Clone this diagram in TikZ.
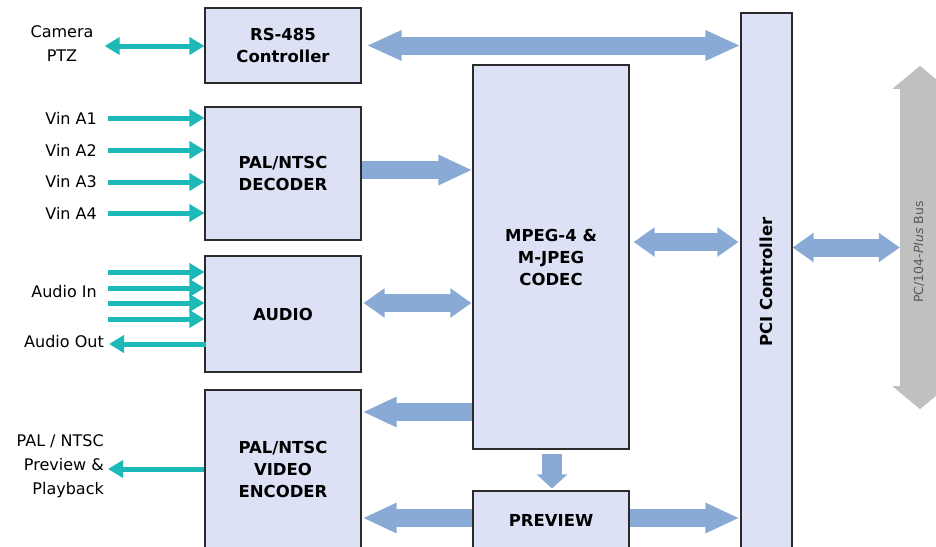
\documentclass[tikz,border=0pt]{standalone}
\usepackage{fontspec}
\setmainfont{DejaVu Sans}
\usetikzlibrary{arrows.meta,calc}
\definecolor{boxfill}{HTML}{DCE1F5}
\definecolor{boxline}{HTML}{2B2B2B}
\definecolor{fatblue}{HTML}{8AAAD6}
\definecolor{sigteal}{HTML}{1DB9B9}
\definecolor{busgray}{HTML}{C0C0C0}
\tikzset{
  blk/.style={draw=boxline, fill=boxfill, line width=1.1pt, align=center,
    font=\fontsize{16.5}{22}\selectfont\bfseries, inner sep=0pt},
  lbl/.style={font=\fontsize{16}{24}\selectfont, inner sep=0pt, text=black},
  fatlong/.style={draw=fatblue, line width=18pt,
    {Triangle[length=35pt,width=28pt]}-{Triangle[length=35pt,width=28pt]}},
  fatone/.style={draw=fatblue, line width=18pt, -{Triangle[length=34pt,width=28pt]}},
  fatshort/.style={draw=fatblue, line width=18pt,
    {Triangle[length=21pt,width=28pt]}-{Triangle[length=21pt,width=28pt]}},
  fatdown/.style={draw=fatblue, line width=20pt, -{Triangle[length=14pt,width=30pt]}},
  sig/.style={draw=sigteal, line width=5pt, -{Triangle[length=15pt,width=17pt]}},
  sigboth/.style={draw=sigteal, line width=5pt,
    {Triangle[length=15pt,width=17pt]}-{Triangle[length=15pt,width=17pt]}},
  busarrow/.style={draw=busgray, line width=40pt,
    {Triangle[length=23pt,width=54pt]}-{Triangle[length=23pt,width=54pt]}},
}
\begin{document}
\begin{tikzpicture}[x=1pt,y=-1pt]
\useasboundingbox (0,0) rectangle (936,546);
\begin{scope}
\clip (0,0) rectangle (936,546);
% blocks
\node[blk, minimum width=156pt, minimum height=75pt] (rs) at (283,45.5) {RS-485\\Controller};
\node[blk, minimum width=156pt, minimum height=133pt] (dec) at (283,173.5) {PAL/NTSC\\DECODER};
\node[blk, minimum width=156pt, minimum height=116pt] (aud) at (283,314) {AUDIO};
\node[blk, minimum width=156pt, minimum height=158pt] (enc) at (283,469) {PAL/NTSC\\VIDEO\\ENCODER};
\node[blk, minimum width=156pt, minimum height=384pt] (mpeg) at (551,257) {MPEG-4 \&\\M-JPEG\\CODEC};
\node[blk, minimum width=156pt, minimum height=58pt] (prev) at (551,520) {PREVIEW};
\node[blk, minimum width=538pt, minimum height=51pt, rotate=90] (pci) at (766.5,282) {PCI Controller};

% bus
\node[minimum width=40pt, minimum height=343pt, inner sep=0pt] (bus) at (920,237.5) {};
\draw[busarrow] (bus.north) -- (bus.south);
\node[rotate=90, font=\fontsize{12.5}{14}\selectfont, text=black!65, inner sep=0pt] (bustxt) at (919,252)
  {PC/104-\textit{Plus} Bus};

% fat arrows
\draw[fatlong] ($(rs.east)+(5,0)$) -- (rs.east -| pci.north);
\draw[fatone] ($(dec.east)+(0,-3.5)$) -- ($(dec.east -| mpeg.west)+(0,-3.5)$);
\draw[fatshort] ($(mpeg.east)+(4,-15)$) -- ($(mpeg.east -| pci.north)+(-2,-15)$);
\draw[fatshort] ($(aud.east)+(2,-11)$) -- ($(aud.east -| mpeg.west)+(-1,-11)$);
\draw[fatone] ($(mpeg.west)+(0,155)$) -- ($(mpeg.west -| enc.east)+(1,155)$);
\draw[fatdown] ($(mpeg.south)+(1,4)$) -- ($(prev.north)+(1,-2)$);
\draw[fatone] ($(prev.west)+(0,-2)$) -- ($(prev.west -| enc.east)+(1,-2)$);
\draw[fatone] ($(prev.east)+(0,-2)$) -- ($(prev.east -| pci.north)+(-1,-2)$);
\draw[fatshort] ($(pci.south)+(0,-34.5)$) -- ($(pci.south -| bus.west)+(0,-34.5)$);

% left labels
\node[lbl, align=center] (cam) at (62,44) {Camera\\PTZ};
\node[lbl, anchor=east] (v1) at (97,118) {Vin A1};
\node[lbl, anchor=east] (v2) at (97,150) {Vin A2};
\node[lbl, anchor=east] (v3) at (97,182) {Vin A3};
\node[lbl, anchor=east] (v4) at (97,213) {Vin A4};
\node[lbl, anchor=east] (ain) at (97,292) {Audio In};
\node[lbl, anchor=east] (aout) at (104,342) {Audio Out};
\node[lbl, anchor=east, align=right] (pv) at (104,466) {PAL / NTSC\\Preview \&\\Playback};

% teal signals
\draw[sigboth] ($(cam.east)+(11,2)$) -- ($(cam.east -| rs.west)+(0,2)$);
\foreach \v in {v1,v2,v3,v4}
  \draw[sig] ($(\v.east)+(11,0)$) -- (\v.east -| dec.west);
\coordinate (a1) at (108,272);
\coordinate (a2) at (108,288);
\coordinate (a3) at (108,303);
\coordinate (a4) at (108,319);
\foreach \a in {a1,a2,a3,a4}
  \draw[sig] (\a) -- (\a -| aud.west);
\draw[sig] ($(aout.east -| aud.west)+(2,2)$) -- ($(aout.east)+(5,2)$);
\draw[sig] ($(pv.east -| enc.west)+(0,3)$) -- ($(pv.east)+(4,3)$);
\end{scope}
\end{tikzpicture}
\end{document}
